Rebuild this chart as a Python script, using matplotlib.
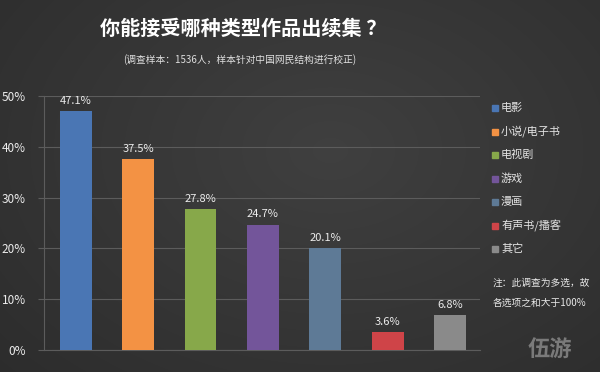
import numpy as np
import matplotlib
matplotlib.use("Agg")
import matplotlib.pyplot as plt

plt.rcParams['font.family'] = ['Noto Sans CJK SC', 'DejaVu Sans']

# data
categories = ['电影', '小说/电子书', '电视剧', '游戏', '漫画', '有声书/播客', '其它']
values = [47.1, 37.5, 27.8, 24.7, 20.1, 3.6, 6.8]
colors = ['#4a76b4', '#f39244', '#87a84a', '#73559a', '#5e7a96', '#cf4448', '#8a8a8a']
yticks = [0, 10, 20, 30, 40, 50]

fig = plt.figure(figsize=(6, 3.72), dpi=100)

# dark background with soft vignette
bg = fig.add_axes([0, 0, 1, 1])
yy, xx = np.mgrid[0:372, 0:600]
r = np.sqrt(((xx - 330) / 420.0) ** 2 + ((yy - 150) / 300.0) ** 2)
shade = 0.25 - 0.07 * np.clip(r, 0, 1.2)
bg.imshow(np.dstack([shade] * 3), extent=[0, 1, 0, 1], aspect='auto', zorder=0)
bg.axis('off')

ax = fig.add_axes([0.073, 0.059, 0.727, 0.683])
ax.patch.set_alpha(0)
x = np.arange(len(values))
ax.bar(x, values, width=0.51, color=colors, zorder=3)
for xi, v in zip(x, values):
    ax.text(xi, v + 1.0, f'{v}%', ha='center', va='bottom', color='#ececec', fontsize=8)

ax.set_xlim(-0.51, 6.48)
ax.set_ylim(0, 50)
ax.set_yticks(yticks)
ax.set_yticklabels([f'{t}%' for t in yticks], color='#ececec', fontsize=8.5)
ax.set_xticks([])
ax.grid(axis='y', color='#5c5c5c', linewidth=0.8, zorder=0)
for s in ['top', 'right']:
    ax.spines[s].set_visible(False)
ax.spines['left'].set_color('#5c5c5c')
ax.spines['bottom'].set_color('#5c5c5c')
ax.tick_params(axis='y', length=4, color='#5c5c5c', pad=9)

# title and subtitle
fig.text(0.405, 0.925, '你能接受哪种类型作品出续集 ？', ha='center', va='center',
         color='white', fontsize=14.5, fontweight='bold')
fig.text(0.4, 0.84, '(调查样本：1536人，样本针对中国网民结构进行校正)', ha='center', va='center',
         color='#e0e0e0', fontsize=7)

# legend
for i, (c, col) in enumerate(zip(categories, colors)):
    yp = 1 - (108 + i * 23.5) / 372
    fig.patches.append(plt.Rectangle((492 / 600, yp - 0.009), 0.0105, 0.017,
                                     transform=fig.transFigure, color=col))
    fig.text(501 / 600, yp, c, ha='left', va='center', color='#e4e4e4', fontsize=8)

fig.text(493 / 600, 1 - 283 / 372, '注：此调查为多选，故', ha='left', va='center',
         color='#e8e8e8', fontsize=7, style='italic')
fig.text(493 / 600, 1 - 303 / 372, '各选项之和大于100%', ha='left', va='center',
         color='#e8e8e8', fontsize=7, style='italic')

# watermark
fig.text(550 / 600, 1 - 350 / 372, '伍游', ha='center', va='center',
         color='#7a7a7a', fontsize=16, fontweight='bold')

fig.savefig('out.png', dpi=100)
